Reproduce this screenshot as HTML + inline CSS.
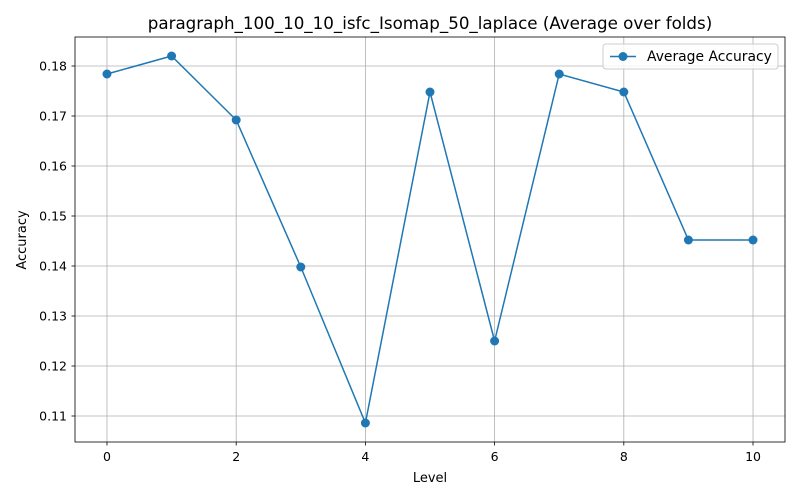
<!DOCTYPE html>
<html><head><meta charset="utf-8"><style>
body{margin:0;background:#fff;font-family:"DejaVu Sans","Liberation Sans",sans-serif;}
text{font-family:"DejaVu Sans","Liberation Sans",sans-serif;}
</style></head><body>
<svg id="chart" width="800" height="500" xmlns="http://www.w3.org/2000/svg">
<rect width="800" height="500" fill="#fff"/>
<g id="grid"></g>
<g id="axes"></g>
<g id="series"></g>
<text x="430" y="29" text-anchor="middle" font-size="16.7" fill="#000">paragraph_100_10_10_isfc_Isomap_50_laplace (Average over folds)</text>
<text x="430" y="482" text-anchor="middle" font-size="13" fill="#000">Level</text>
<text x="26" y="240" text-anchor="middle" font-size="13" fill="#000" transform="rotate(-90 26 240)">Accuracy</text>
<g>
<rect x="603" y="44" width="175" height="25" rx="3" fill="#fff" fill-opacity="0.8" stroke="#ccc"/>
<line x1="610" y1="56.5" x2="636" y2="56.5" stroke="#1f77b4" stroke-width="1.5"/>
<circle cx="623" cy="56.5" r="4.5" fill="#1f77b4"/>
<text x="647" y="61" font-size="13.9" fill="#000">Average Accuracy</text>
</g>
</svg>
<script>
const levels=[0,1,2,3,4,5,6,7,8,9,10];
const accuracy=[0.1784,0.182,0.1692,0.1398,0.1086,0.1748,0.125,0.1784,0.1748,0.1452,0.1452];
const xTicks=[0,2,4,6,8,10];
const yTicks=[0.11,0.12,0.13,0.14,0.15,0.16,0.17,0.18];
const L=75,R=785,T=37,B=442;
const xMin=-0.495,xMax=10.495,yMin=0.1048,yMax=0.1858;
const NS="http://www.w3.org/2000/svg";
function xs(v){return L+(v-xMin)/(xMax-xMin)*(R-L);}
function ys(v){return B-(v-yMin)/(yMax-yMin)*(B-T);}
function mk(t,a,p){const e=document.createElementNS(NS,t);for(const k in a)e.setAttribute(k,a[k]);p.appendChild(e);return e;}
const grid=document.getElementById('grid'),axes=document.getElementById('axes'),ser=document.getElementById('series');
xTicks.forEach(t=>{const x=xs(t);
 const g=mk('line',{x1:x,x2:x,y1:T,y2:B,stroke:'#b0b0b0','stroke-width':0.8},grid);
 
 
 mk('line',{x1:x,x2:x,y1:B,y2:B+3.5,stroke:'#000','stroke-width':0.8},axes);
 const tx=mk('text',{x:x,y:B+19,'text-anchor':'middle','font-size':12.5,fill:'#000'},axes);tx.textContent=t;
 
 
});
yTicks.forEach(t=>{const y=ys(t);
 const g=mk('line',{x1:L,x2:R,y1:y,y2:y,stroke:'#b0b0b0','stroke-width':0.8},grid);
 
 
 mk('line',{x1:L-3.5,x2:L,y1:y,y2:y,stroke:'#000','stroke-width':0.8},axes);
 const tx=mk('text',{x:L-8,y:y+4.5,'text-anchor':'end','font-size':12.5,fill:'#000'},axes);tx.textContent=t.toFixed(2);
 
 
});
const frame=mk('rect',{x:L,y:T,width:R-L,height:B-T,fill:'none',stroke:'#000','stroke-width':0.8},axes);


const pts=levels.map((l,i)=>xs(l)+','+ys(accuracy[i])).join(' ');
const pl=mk('polyline',{points:pts,fill:'none',stroke:'#1f77b4','stroke-width':1.5},ser);


levels.forEach((l,i)=>{const c=mk('circle',{cx:xs(l),cy:ys(accuracy[i]),r:4.5,fill:'#1f77b4'},ser);
 
 
});
</script>
</body></html>
